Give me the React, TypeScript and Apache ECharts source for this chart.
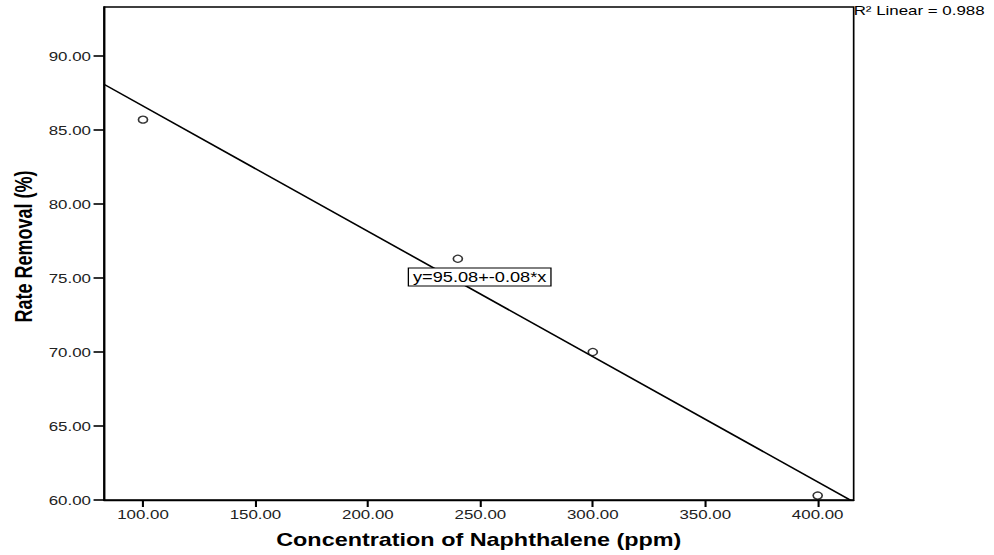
import React, { useEffect, useRef } from "react";
import * as echarts from "echarts";

// ---- data ----
const CONCENTRATION = [100, 240, 300, 400];
const RATE_REMOVAL = [85.7, 76.3, 70.0, 60.3];
const X_TICKS = [100, 150, 200, 250, 300, 350, 400];
const Y_TICKS = [60, 65, 70, 75, 80, 85, 90];
const X_MIN = 82.64;
const X_MAX = 416.0;
const Y_MIN = 60;
const Y_MAX = 93.31;
const EQUATION_TEXT = "y=95.08+-0.08*x";
const EQUATION_POS = [249.7, 75.07];
const R2_TEXT = "R\u00B2 Linear = 0.988";

// the reference image is stretched horizontally; reproduce with a CSS scale
const INNER_W = 765;
const INNER_H = 555;
const SCALE_X = 994 / INNER_W;

const FONT = "'Liberation Sans', Arial, sans-serif";

function linearFit(xs: number[], ys: number[]) {
  const n = xs.length;
  const mx = xs.reduce((a, b) => a + b, 0) / n;
  const my = ys.reduce((a, b) => a + b, 0) / n;
  let sxy = 0;
  let sxx = 0;
  for (let i = 0; i < n; i++) {
    sxy += (xs[i] - mx) * (ys[i] - my);
    sxx += (xs[i] - mx) * (xs[i] - mx);
  }
  const slope = sxy / sxx;
  return { slope, intercept: my - slope * mx };
}

export default function App() {
  const ref = useRef<HTMLDivElement>(null);

  useEffect(() => {
    if (!ref.current) return;
    const chart = echarts.init(ref.current, undefined, { renderer: "svg" });
    const fit = linearFit(CONCENTRATION, RATE_REMOVAL);
    const fitLine = [X_MIN, X_MAX].map((x) => [x, fit.intercept + fit.slope * x]);

    const labelStyle = {
      fontFamily: FONT,
      fontSize: 13,
      color: "#222",
    };

    chart.setOption({
      animation: false,
      grid: {
        left: 80,
        top: 7,
        width: 577,
        height: 493,
        show: true,
        borderColor: "#000",
        borderWidth: 1.3,
        backgroundColor: "transparent",
      },
      xAxis: {
        type: "value",
        min: X_MIN,
        max: X_MAX,
        name: "Concentration of Naphthalene (ppm)",
        nameLocation: "middle",
        nameGap: 31,
        nameTextStyle: {
          fontFamily: FONT,
          fontSize: 18,
          fontWeight: "bold",
          color: "#000",
        },
        axisLine: { show: true, onZero: false, lineStyle: { color: "#000", width: 1.3 } },
        axisTick: {
          show: true,
          length: 7,
          customValues: X_TICKS,
          lineStyle: { color: "#000", width: 1.6 },
        },
        axisLabel: {
          ...labelStyle,
          margin: 8,
          customValues: X_TICKS,
          formatter: (v: number) => v.toFixed(2),
        },
        splitLine: { show: false },
      },
      yAxis: {
        type: "value",
        min: Y_MIN,
        max: Y_MAX,
        axisLine: { show: true, onZero: false, lineStyle: { color: "#000", width: 1.3 } },
        axisTick: {
          show: true,
          length: 8,
          customValues: Y_TICKS,
          lineStyle: { color: "#000", width: 1.6 },
        },
        axisLabel: {
          ...labelStyle,
          margin: 10,
          customValues: Y_TICKS,
          formatter: (v: number) => v.toFixed(2),
        },
        splitLine: { show: false },
      },
      graphic: [
        {
          type: "text",
          x: 18.5,
          y: 246.5,
          rotation: Math.PI / 2,
          style: {
            text: "Rate Removal (%)",
            fontFamily: FONT,
            fontSize: 18,
            fontWeight: "bold",
            fill: "#000",
            align: "center",
            verticalAlign: "middle",
          },
        },
        {
          type: "text",
          x: 657,
          y: 4,
          style: {
            text: R2_TEXT,
            fontFamily: FONT,
            fontSize: 13,
            fill: "#000",
            align: "left",
            verticalAlign: "top",
          },
        },
      ],
      series: [
        {
          type: "line",
          data: fitLine,
          symbol: "none",
          clip: true,
          lineStyle: { color: "#000", width: 1.5 },
          z: 2,
          markPoint: {
            symbol: "rect",
            symbolSize: 1,
            itemStyle: { color: "transparent" },
            data: [{ coord: EQUATION_POS }],
            label: {
              show: true,
              position: "inside",
              formatter: () => EQUATION_TEXT,
              fontFamily: FONT,
              fontSize: 14,
              color: "#000",
              backgroundColor: "#fff",
              borderColor: "#000",
              borderWidth: 1,
              padding: [2, 3, 1, 3],
            },
            z: 5,
          },
        },
        {
          type: "scatter",
          data: CONCENTRATION.map((x, i) => [x, RATE_REMOVAL[i]]),
          symbol: "circle",
          symbolSize: 7,
          itemStyle: { color: "#fff", borderColor: "#000", borderWidth: 1.3 },
          z: 3,
        },
      ],
    });

    return () => chart.dispose();
  }, []);

  return (
    <div
      style={{
        position: "absolute",
        left: 0,
        top: 0,
        width: INNER_W,
        height: INNER_H,
        transform: `scaleX(${SCALE_X})`,
        transformOrigin: "0 0",
        background: "#fff",
      }}
    >
      <div ref={ref} style={{ width: INNER_W, height: INNER_H }} />
    </div>
  );
}
